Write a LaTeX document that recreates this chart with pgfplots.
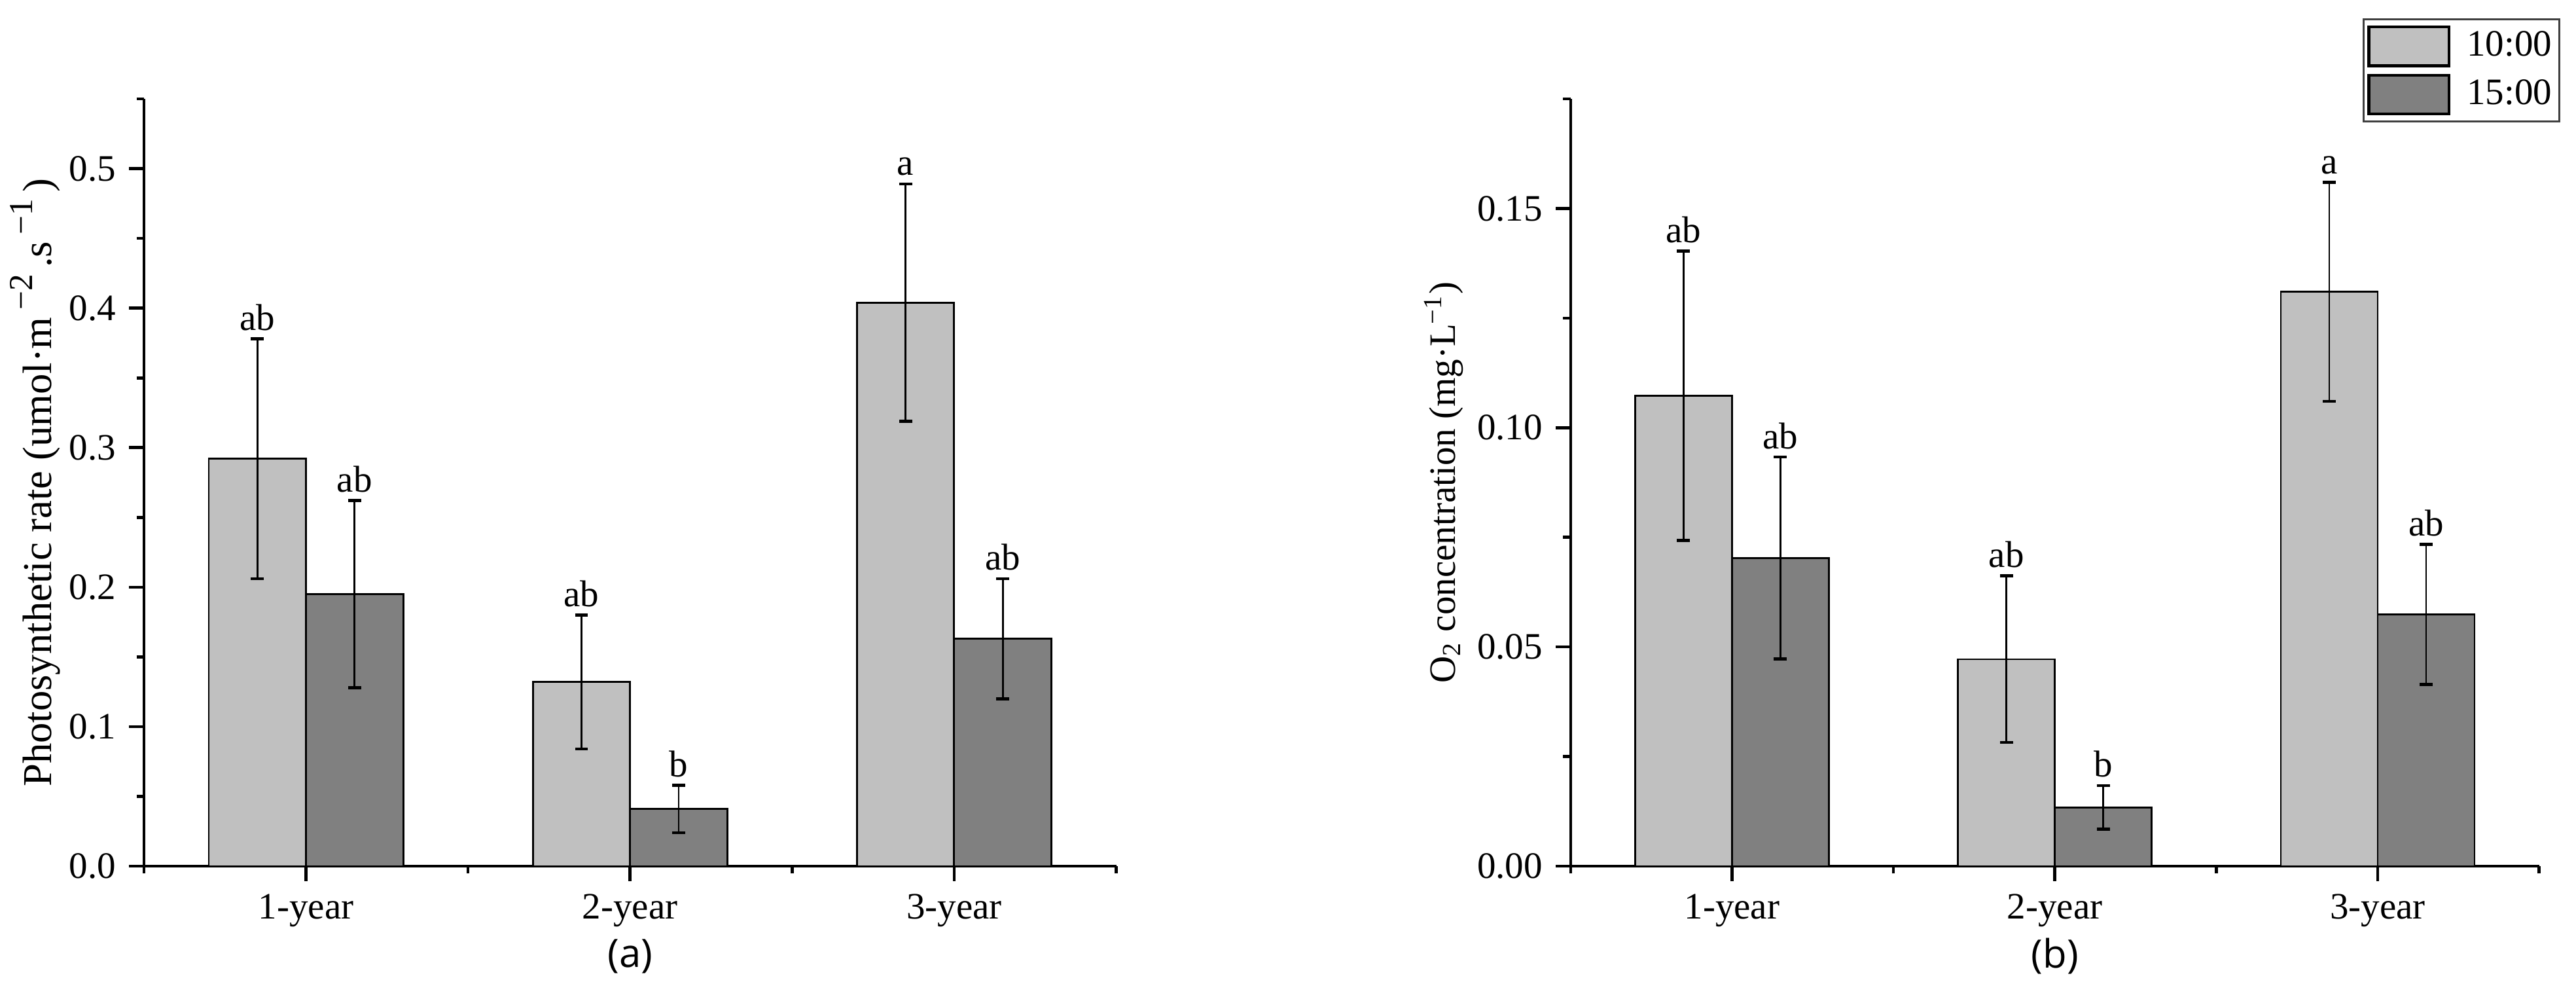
\documentclass[border=0pt]{standalone}
\usepackage{fontspec}
\setmainfont{Liberation Serif}
\newfontfamily\capfont{Open Sans}
\usepackage{pgfplots}
\pgfplotsset{compat=1.18}

\definecolor{lightbar}{RGB}{192,192,192}
\definecolor{darkbar}{RGB}{128,128,128}

\newcommand{\raisedsup}[1]{\,\raisebox{5pt}{\fontsize{9}{10}\selectfont #1}\,}

\pgfplotsset{
  panel/.style={
    scale only axis,
    height=205.6pt,
    anchor=south west,
    xmin=0.5, xmax=3.5, ymin=0,
    axis x line*=bottom, axis y line*=left,
    axis line style={-, line width=0.8pt},
    tick align=outside,
    major tick length=4pt, minor tick length=2pt,
    every tick/.style={black, line width=0.8pt},
    xtick={1,2,3}, xticklabels={1-year,2-year,3-year},
    minor xtick={0.5,1.5,2.5,3.5},
    /pgf/number format/assume math mode=true,
    xlabel style={at={(axis description cs:0.5,0)}, anchor=center, yshift=-24.2pt, font=\capfont\fontsize{10.5}{12}\selectfont},
    ylabel style={anchor=south, inner sep=0pt},
    clip=false,
  },
  barlegend/.style={legend image code/.code={\draw[##1, line width=0.8pt] (0pt,-5.2pt) rectangle (21.5pt,5.2pt);}},
  barstyle/.style={ybar, bar width=0.3, bar shift=0pt, fill=#1, draw=black, line width=0.5pt, barlegend,
    error bars/y dir=both, error bars/y explicit,
    error bars/error mark=|,
    error bars/error bar style={line width=0.5pt, black},
    error bars/error mark options={black, line width=0.8pt, mark size=1.75pt}},
  letters/.style={draw=none, mark=none, forget plot, nodes near coords, point meta=explicit symbolic,
    every node near coord/.append style={inner sep=2pt, anchor=south, black}},
}

\begin{document}
\begin{tikzpicture}
\useasboundingbox (0,0) rectangle (690.5pt,268.06pt);

% (a) photosynthetic rate
\begin{axis}[panel, at={(38.6pt,35.96pt)}, width=260.6pt,
    ymax=0.55, ytick={0,0.1,0.2,0.3,0.4,0.5},
    minor ytick={0.05,0.15,0.25,0.35,0.45,0.55},
    yticklabel style={/pgf/number format/.cd, fixed, zerofill, precision=1},
    xlabel={(a)},
    ylabel={Photosynthetic rate (umol·m\raisedsup{−2}.s\raisedsup{−1})},
    ylabel style={at={(axis description cs:-0.0856,0.5)}, font=\fontsize{11}{13}\selectfont}]
\addplot[barstyle=lightbar] coordinates {
  (0.85,0.292) +- (0,0.086)
  (1.85,0.132) +- (0,0.048)
  (2.85,0.404) +- (0,0.085)
};
\addplot[barstyle=darkbar] coordinates {
  (1.15,0.195) +- (0,0.067)
  (2.15,0.041) +- (0,0.017)
  (3.15,0.163) +- (0,0.043)
};
\addplot[letters] coordinates {
  (0.85,0.378) [ab]
  (1.85,0.180) [ab]
  (2.85,0.489) [a]
  (1.15,0.262) [ab]
  (2.15,0.058) [b]
  (3.15,0.206) [ab]
};
\end{axis}

% (b) O2 concentration
\begin{axis}[panel, at={(421.0pt,35.96pt)}, width=259.6pt,
    ymax=0.175, ytick={0,0.05,0.10,0.15},
    minor ytick={0.025,0.075,0.125,0.175},
    yticklabel style={/pgf/number format/.cd, fixed, zerofill, precision=2},
    xlabel={(b)},
    ylabel={O\textsubscript{2} concentration (mg·L\textsuperscript{−1})},
    ylabel style={at={(axis description cs:-0.1102,0.5)}},
    legend style={at={(axis description cs:1.0219,1.1048)}, anchor=north east,
      draw=black!75, line width=0.5pt, fill=white,
      inner xsep=1pt, inner ysep=1.6pt, row sep=1.75pt, column sep=3.4pt,
      nodes={inner sep=1pt, text=black}, cells={anchor=west}}]
\addplot[barstyle=lightbar] coordinates {
  (0.85,0.1073) +- (0,0.033)
  (1.85,0.0472) +- (0,0.019)
  (2.85,0.131) +- (0,0.025)
};
\addlegendentry{10:00}
\addplot[barstyle=darkbar] coordinates {
  (1.15,0.0703) +- (0,0.023)
  (2.15,0.0134) +- (0,0.005)
  (3.15,0.0574) +- (0,0.016)
};
\addlegendentry{15:00}
\addplot[letters] coordinates {
  (0.85,0.1403) [ab]
  (1.85,0.0662) [ab]
  (2.85,0.156) [a]
  (1.15,0.0933) [ab]
  (2.15,0.0184) [b]
  (3.15,0.0734) [ab]
};
\end{axis}
\end{tikzpicture}
\end{document}
